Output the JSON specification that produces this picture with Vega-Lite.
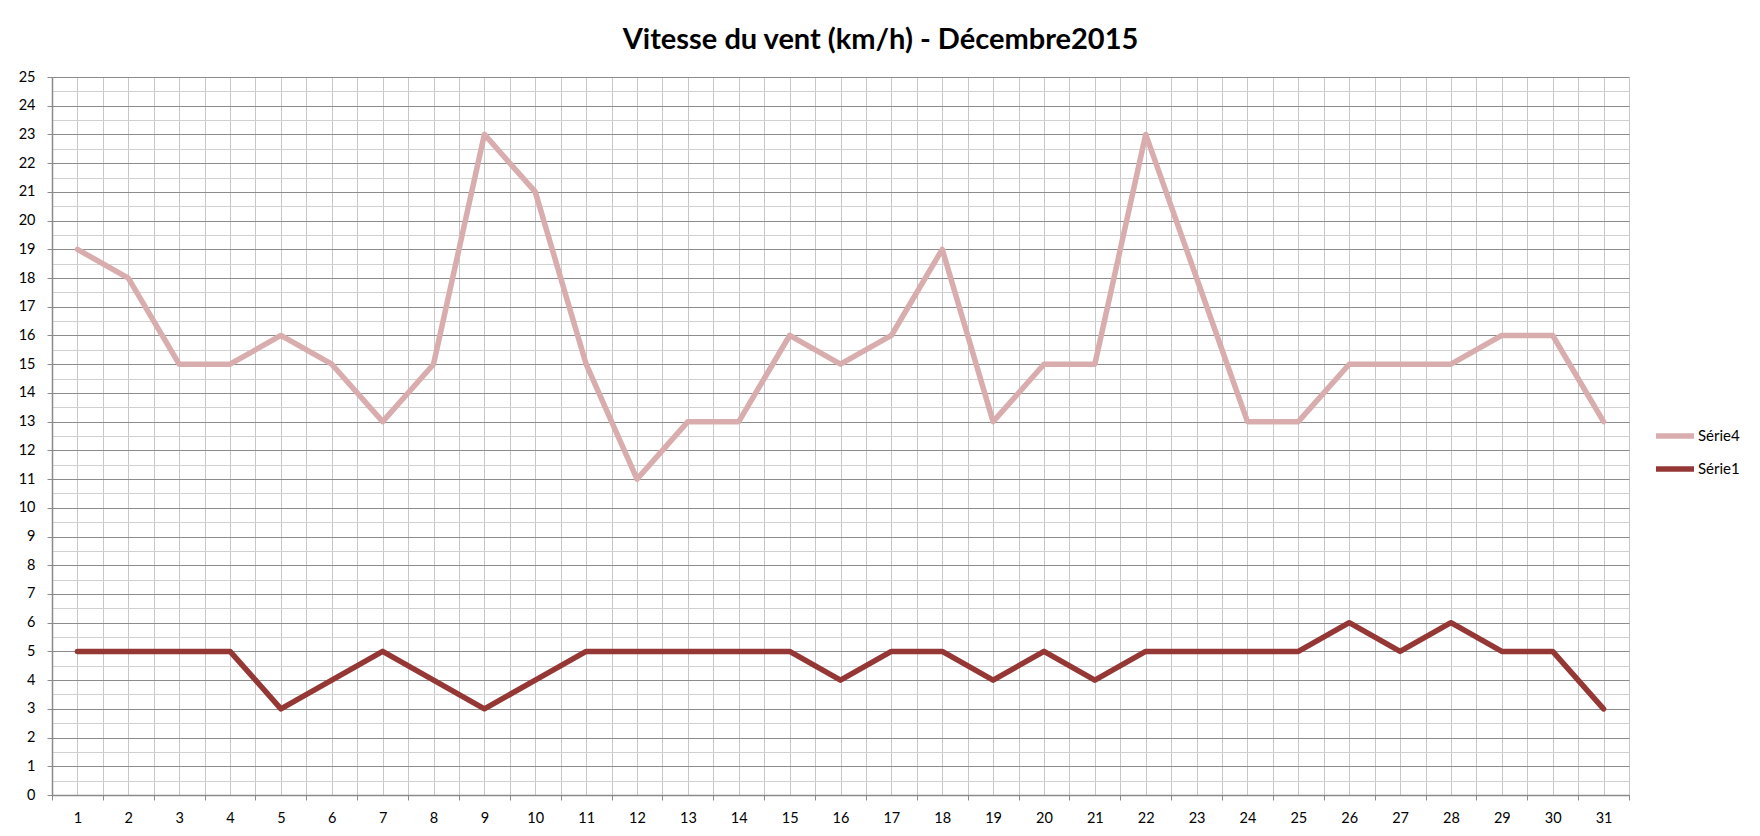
{
  "$schema": "https://vega.github.io/schema/vega-lite/v6.json",
  "autosize": {"type": "none"},
  "padding": {"left": 52, "top": 77, "right": 131, "bottom": 41},
  "width": 1577,
  "height": 718,
  "background": "white",
  "config": {
    "font": "Lato",
    "view": {"stroke": null},
    "axis": {"labelFont": "Lato", "labelFontSize": 14.5, "labelColor": "#000000"}
  },
  "title": {
    "text": "Vitesse du vent (km/h) - Décembre2015",
    "font": "Lato",
    "fontSize": 29,
    "fontWeight": "bold",
    "color": "#000000",
    "anchor": "middle",
    "dx": 40,
    "offset": 14
  },
  "data": {
    "values": [
      {"jour": 1, "serie": "Série4", "vitesse": 19},
      {"jour": 2, "serie": "Série4", "vitesse": 18},
      {"jour": 3, "serie": "Série4", "vitesse": 15},
      {"jour": 4, "serie": "Série4", "vitesse": 15},
      {"jour": 5, "serie": "Série4", "vitesse": 16},
      {"jour": 6, "serie": "Série4", "vitesse": 15},
      {"jour": 7, "serie": "Série4", "vitesse": 13},
      {"jour": 8, "serie": "Série4", "vitesse": 15},
      {"jour": 9, "serie": "Série4", "vitesse": 23},
      {"jour": 10, "serie": "Série4", "vitesse": 21},
      {"jour": 11, "serie": "Série4", "vitesse": 15},
      {"jour": 12, "serie": "Série4", "vitesse": 11},
      {"jour": 13, "serie": "Série4", "vitesse": 13},
      {"jour": 14, "serie": "Série4", "vitesse": 13},
      {"jour": 15, "serie": "Série4", "vitesse": 16},
      {"jour": 16, "serie": "Série4", "vitesse": 15},
      {"jour": 17, "serie": "Série4", "vitesse": 16},
      {"jour": 18, "serie": "Série4", "vitesse": 19},
      {"jour": 19, "serie": "Série4", "vitesse": 13},
      {"jour": 20, "serie": "Série4", "vitesse": 15},
      {"jour": 21, "serie": "Série4", "vitesse": 15},
      {"jour": 22, "serie": "Série4", "vitesse": 23},
      {"jour": 23, "serie": "Série4", "vitesse": 18},
      {"jour": 24, "serie": "Série4", "vitesse": 13},
      {"jour": 25, "serie": "Série4", "vitesse": 13},
      {"jour": 26, "serie": "Série4", "vitesse": 15},
      {"jour": 27, "serie": "Série4", "vitesse": 15},
      {"jour": 28, "serie": "Série4", "vitesse": 15},
      {"jour": 29, "serie": "Série4", "vitesse": 16},
      {"jour": 30, "serie": "Série4", "vitesse": 16},
      {"jour": 31, "serie": "Série4", "vitesse": 13},
      {"jour": 1, "serie": "Série1", "vitesse": 5},
      {"jour": 2, "serie": "Série1", "vitesse": 5},
      {"jour": 3, "serie": "Série1", "vitesse": 5},
      {"jour": 4, "serie": "Série1", "vitesse": 5},
      {"jour": 5, "serie": "Série1", "vitesse": 3},
      {"jour": 6, "serie": "Série1", "vitesse": 4},
      {"jour": 7, "serie": "Série1", "vitesse": 5},
      {"jour": 8, "serie": "Série1", "vitesse": 4},
      {"jour": 9, "serie": "Série1", "vitesse": 3},
      {"jour": 10, "serie": "Série1", "vitesse": 4},
      {"jour": 11, "serie": "Série1", "vitesse": 5},
      {"jour": 12, "serie": "Série1", "vitesse": 5},
      {"jour": 13, "serie": "Série1", "vitesse": 5},
      {"jour": 14, "serie": "Série1", "vitesse": 5},
      {"jour": 15, "serie": "Série1", "vitesse": 5},
      {"jour": 16, "serie": "Série1", "vitesse": 4},
      {"jour": 17, "serie": "Série1", "vitesse": 5},
      {"jour": 18, "serie": "Série1", "vitesse": 5},
      {"jour": 19, "serie": "Série1", "vitesse": 4},
      {"jour": 20, "serie": "Série1", "vitesse": 5},
      {"jour": 21, "serie": "Série1", "vitesse": 4},
      {"jour": 22, "serie": "Série1", "vitesse": 5},
      {"jour": 23, "serie": "Série1", "vitesse": 5},
      {"jour": 24, "serie": "Série1", "vitesse": 5},
      {"jour": 25, "serie": "Série1", "vitesse": 5},
      {"jour": 26, "serie": "Série1", "vitesse": 6},
      {"jour": 27, "serie": "Série1", "vitesse": 5},
      {"jour": 28, "serie": "Série1", "vitesse": 6},
      {"jour": 29, "serie": "Série1", "vitesse": 5},
      {"jour": 30, "serie": "Série1", "vitesse": 5},
      {"jour": 31, "serie": "Série1", "vitesse": 3}
    ]
  },
  "mark": {"type": "line", "strokeWidth": 5.5, "strokeJoin": "round", "strokeCap": "round"},
  "encoding": {
    "x": {
      "field": "jour",
      "type": "quantitative",
      "scale": {"domain": [0.5, 31.5], "nice": false, "zero": false},
      "axis": {
        "title": null,
        "values": [0.5,1,1.5,2,2.5,3,3.5,4,4.5,5,5.5,6,6.5,7,7.5,8,8.5,9,9.5,10,10.5,11,11.5,12,12.5,13,13.5,14,14.5,15,15.5,16,16.5,17,17.5,18,18.5,19,19.5,20,20.5,21,21.5,22,22.5,23,23.5,24,24.5,25,25.5,26,26.5,27,27.5,28,28.5,29,29.5,30,30.5,31,31.5],
        "labelExpr": "datum.value % 1 === 0 ? format(datum.value, 'd') : ''",
        "labelOverlap": false,
        "labelFlush": false,
        "labelPadding": 11,
        "grid": true,
        "gridColor": "#C8C8C8",
        "gridWidth": 1,
        "tickSize": 5,
        "tickColor": {"condition": {"test": "datum.value % 1 !== 0", "value": "#8A8A8A"}, "value": "transparent"},
        "domainColor": "#8A8A8A",
        "domainWidth": 1.5
      }
    },
    "y": {
      "field": "vitesse",
      "type": "quantitative",
      "scale": {"domain": [0, 25], "nice": false},
      "axis": {
        "title": null,
        "values": [0,0.5,1,1.5,2,2.5,3,3.5,4,4.5,5,5.5,6,6.5,7,7.5,8,8.5,9,9.5,10,10.5,11,11.5,12,12.5,13,13.5,14,14.5,15,15.5,16,16.5,17,17.5,18,18.5,19,19.5,20,20.5,21,21.5,22,22.5,23,23.5,24,24.5,25],
        "labelExpr": "datum.value % 1 === 0 ? format(datum.value, 'd') : ''",
        "labelOverlap": false,
        "labelFlush": false,
        "labelPadding": 12,
        "grid": true,
        "gridColor": {"condition": {"test": "datum.value % 1 === 0", "value": "#8C8C8C"}, "value": "#D0D0D0"},
        "gridWidth": 1,
        "tickSize": 5,
        "tickColor": {"condition": {"test": "datum.value % 1 === 0", "value": "#8A8A8A"}, "value": "transparent"},
        "domainColor": "#8A8A8A",
        "domainWidth": 1.5
      }
    },
    "color": {
      "field": "serie",
      "type": "nominal",
      "scale": {"domain": ["Série4", "Série1"], "range": ["#D9ADAD", "#953735"]},
      "legend": {
        "title": null,
        "orient": "none",
        "legendX": 1601,
        "legendY": 337,
        "symbolType": "stroke",
        "symbolSize": 1444,
        "symbolStrokeWidth": 5.5,
        "labelFont": "Lato",
        "labelFontSize": 15,
        "labelColor": "#000000",
        "labelOffset": 1,
        "rowPadding": -8
      }
    },
    "order": {"field": "jour", "type": "quantitative"}
  }
}
